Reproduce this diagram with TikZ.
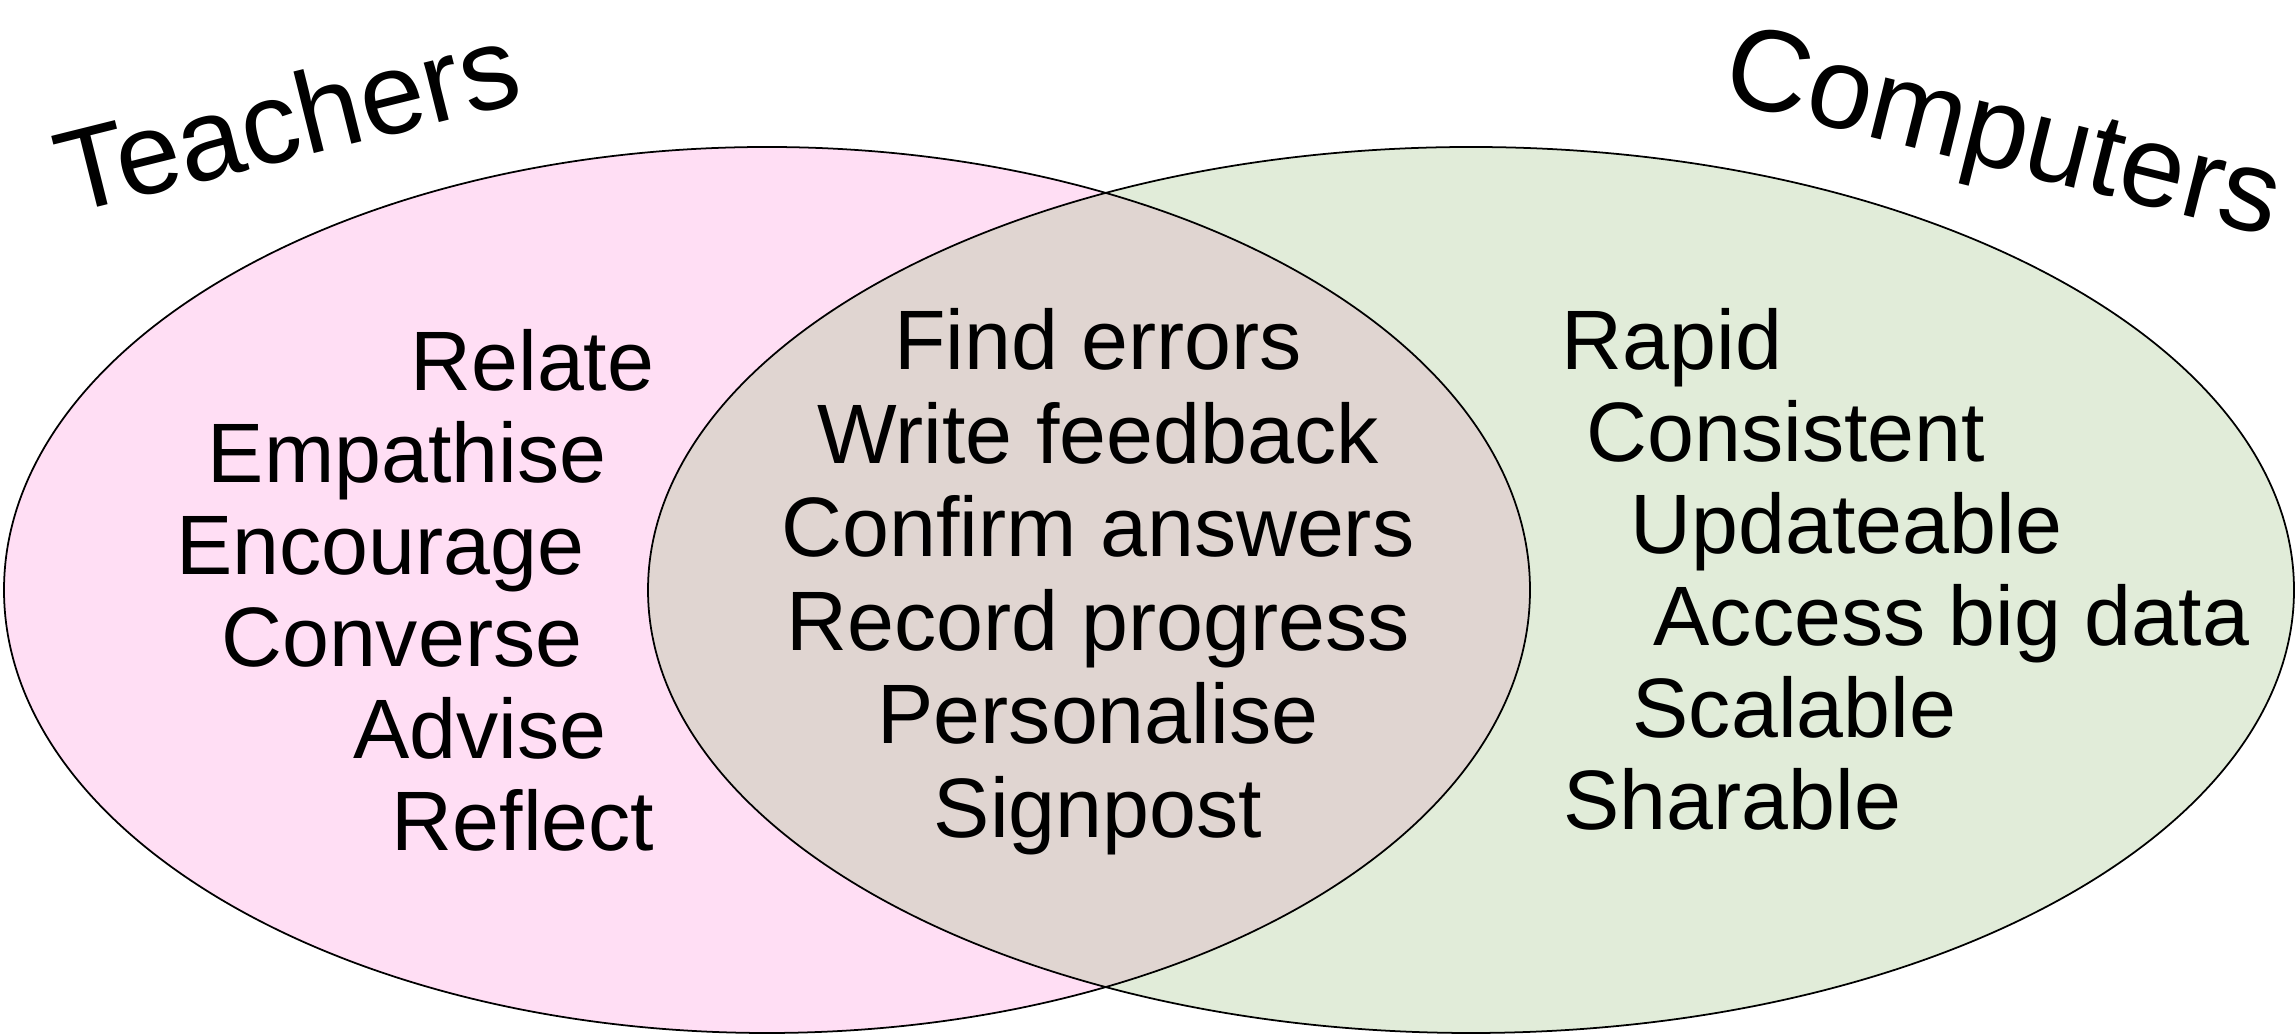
\documentclass[tikz,border=0pt]{standalone}
\usepackage{fontspec}
\setmainfont{Liberation Sans}
\usetikzlibrary{positioning}
\definecolor{VennPink}{RGB}{255,222,244}
\definecolor{VennGreen}{RGB}{225,236,217}
\definecolor{VennBoth}{RGB}{224,213,209}

\begin{document}
\begin{tikzpicture}[
  node distance=0.06cm,
  item/.style={inner xsep=0pt, inner ysep=0.04cm, text height=0.6cm, text depth=0.18cm,
               font=\fontsize{24}{28}\selectfont},
  title/.style={inner sep=0pt, font=\fontsize{33}{39}\selectfont},
  ring/.style={draw=black, line width=0.5pt}
]
\useasboundingbox (0,0) rectangle (22.95,10.34);
% the two sets and their overlap
\fill[VennPink] (7.67,4.44) ellipse [x radius=7.63, y radius=4.43];
\fill[VennGreen] (14.71,4.44) ellipse [x radius=8.23, y radius=4.43];
\begin{scope}
  \clip (7.67,4.44) ellipse [x radius=7.63, y radius=4.43];
  \fill[VennBoth] (14.71,4.44) ellipse [x radius=8.23, y radius=4.43];
\end{scope}
\draw[ring] (7.67,4.44) ellipse [x radius=7.63, y radius=4.43];
\draw[ring] (14.71,4.44) ellipse [x radius=8.23, y radius=4.43];
% titles
\node[title, rotate=14, anchor=base] (teach) at (2.97,8.76) {Teachers};
\node[title, rotate=-14, anchor=base] (comp) at (19.95,8.66) {Computers};
% teachers only
\node[item, anchor=base east] (t1) at (6.55,6.43) {Relate};
\node[item, anchor=base east] (t2) at (6.07,5.51) {Empathise};
\node[item, anchor=base east] (t3) at (5.85,4.59) {Encourage};
\node[item, anchor=base east] (t4) at (5.83,3.67) {Converse};
\node[item, anchor=base east] (t5) at (6.07,2.75) {Advise};
\node[item, anchor=base east] (t6) at (6.55,1.83) {Reflect};
% both
\node[item, anchor=base] (b1) at (10.98,6.64) {Find errors};
\node[item, below=of b1] (b2) {Write feedback};
\node[item, below=of b2] (b3) {Confirm answers};
\node[item, below=of b3] (b4) {Record progress};
\node[item, below=of b4] (b5) {Personalise};
\node[item, below=of b5] (b6) {Signpost};
% computers only
\node[item, anchor=base west] (c1) at (15.61,6.64) {Rapid};
\node[item, anchor=base west] (c2) at (15.86,5.72) {Consistent};
\node[item, anchor=base west] (c3) at (16.30,4.80) {Updateable};
\node[item, anchor=base west] (c4) at (16.53,3.88) {Access big data};
\node[item, anchor=base west] (c5) at (16.32,2.96) {Scalable};
\node[item, anchor=base west] (c6) at (15.63,2.04) {Sharable};
\end{tikzpicture}
\end{document}
